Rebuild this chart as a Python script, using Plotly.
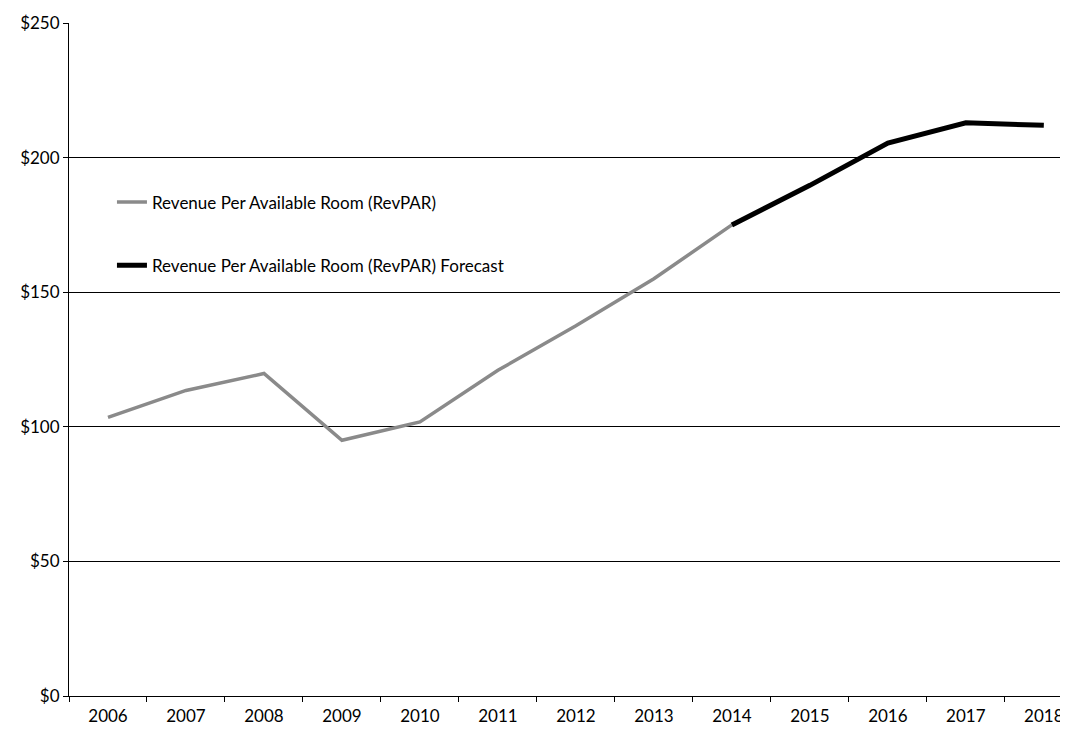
import plotly.graph_objects as go

years = ["2006", "2007", "2008", "2009", "2010", "2011", "2012",
         "2013", "2014", "2015", "2016", "2017", "2018"]
actual_years = years[:9]
actual_values = [103.5, 113.5, 119.8, 95.0, 101.8, 121.0, 137.5, 155.0, 175.0]
forecast_years = years[8:]
forecast_values = [175.0, 189.7, 205.4, 212.9, 212.0]

name_actual = "Revenue Per Available Room (RevPAR)"
name_forecast = "Revenue Per Available Room (RevPAR) Forecast"
y_ticks = [0, 50, 100, 150, 200, 250]
y_tick_text = ["$0", "$50", "$100", "$150", "$200", "$250"]

fig = go.Figure()
fig.add_trace(go.Scatter(x=actual_years, y=actual_values, mode="lines",
                         name=name_actual, legendgroup="a",
                         line=dict(color="#8a8a8a", width=3.5)))
fig.add_trace(go.Scatter(x=forecast_years, y=forecast_values, mode="lines",
                         name=name_forecast, legendgroup="b",
                         line=dict(color="#000000", width=5)))

font_family = "Lato, 'Open Sans', sans-serif"
fig.update_layout(
    width=1060, height=723,
    margin=dict(l=61, r=0, t=15, b=35),
    paper_bgcolor="white", plot_bgcolor="white",
    font=dict(family=font_family, size=17, color="#000"),
    showlegend=True,
    legend=dict(x=0.043, y=0.76, xanchor="left", yanchor="top",
                bgcolor="rgba(0,0,0,0)", tracegroupgap=38,
                font=dict(size=17), itemwidth=30),
    xaxis=dict(type="category", categoryorder="array", categoryarray=years,
               range=[-0.5, 12.31], showgrid=False, automargin=False,
               showline=True, linecolor="#000", linewidth=1,
               ticks="outside", tickson="boundaries", ticklen=5,
               ticklabelstandoff=5,
               tickcolor="#000", tickfont=dict(size=17)),
    yaxis=dict(range=[0, 250], tickvals=y_ticks, ticktext=y_tick_text,
               showgrid=True, gridcolor="#000", gridwidth=1, automargin=False,
               showline=True, linecolor="#000", linewidth=1,
               ticks="outside", ticklen=5, tickcolor="#000",
               zeroline=False, tickfont=dict(size=17)),
)

fig.write_html("out.html")
